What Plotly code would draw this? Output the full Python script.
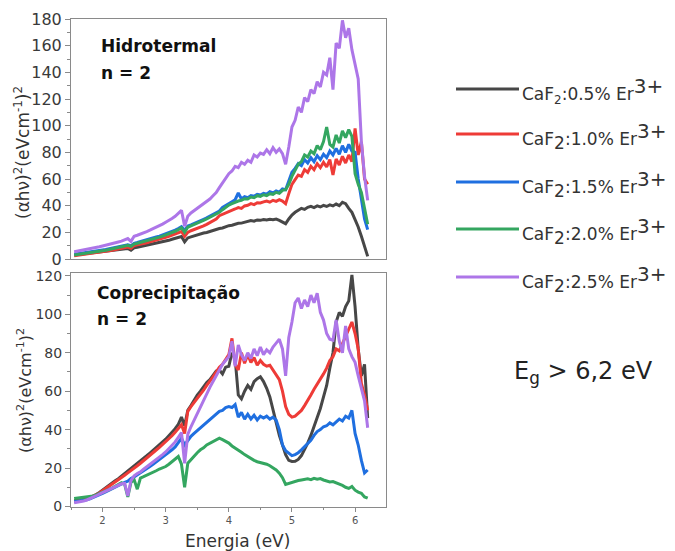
import numpy as np
import plotly.graph_objects as go

W, H = 675, 551

# Photon energy grid (eV)
energy = np.round(np.arange(1.55, 6.2001, 0.05), 2)

labels = ["0.5%", "1.0%", "1.5%", "2.0%", "2.5%"]
colors = ["#474747", "#ee3b37", "#1f6fe0", "#34a660", "#ad76e8"]

# ---------------- Hidrotermal (top) ----------------
hid_05 = [3.0, 3.3, 3.5, 3.8, 4.0, 4.2, 4.6, 4.8, 5.1, 5.4,
          5.6, 6.0, 6.2, 6.6, 6.9, 7.3, 7.6, 7.9, 6.6, 8.4,
          8.8, 9.3, 9.6, 10.2, 10.6, 11.0, 11.6, 12.1, 12.6, 13.2,
          14.0, 14.8, 15.6, 16.6, 16.9, 12.8, 15.8, 16.6, 17.4, 18.0,
          18.6, 19.5, 19.9, 20.8, 21.4, 22.0, 22.9, 23.3, 24.2, 25.0,
          25.3, 26.0, 26.8, 26.9, 27.6, 28.2, 28.8, 28.4, 29.3, 29.0,
          29.6, 29.2, 29.8, 29.5, 29.9, 29.0, 28.0, 26.5, 30.0, 33.0,
          35.0, 36.8, 38.0, 37.2, 38.8, 39.5, 38.6, 39.8, 39.0, 40.2,
          39.4, 40.6, 39.8, 41.2, 40.0, 42.5, 41.5, 38.0, 35.0, 29.5,
          24.0, 17.0, 10.0, 2.0]
hid_10 = [2.5, 2.8, 3.0, 3.4, 3.6, 3.9, 4.3, 4.6, 5.0, 5.4,
          5.8, 6.2, 6.6, 7.0, 7.5, 7.9, 8.4, 8.9, 8.0, 10.0,
          10.6, 11.0, 11.6, 12.1, 12.8, 13.4, 14.0, 14.8, 15.4, 16.2,
          17.0, 17.8, 18.8, 19.8, 20.6, 17.0, 20.0, 21.2, 22.0, 23.0,
          24.0, 24.8, 26.0, 27.2, 28.4, 30.0, 32.5, 33.4, 34.6, 35.5,
          36.2, 37.5, 38.6, 38.0, 39.8, 40.3, 41.5, 40.8, 42.2, 42.0,
          42.8, 43.5, 42.6, 44.0, 43.2, 44.5, 43.5, 41.5, 49.0, 56.0,
          59.5, 63.0, 62.0, 67.0, 65.0, 69.5, 67.0, 71.5, 68.5, 72.5,
          69.0, 74.5, 63.0, 75.0, 70.5, 77.0, 72.0, 78.0, 73.0, 98.0,
          78.0, 88.0, 60.0, 56.0]
hid_15 = [3.5, 3.8, 4.1, 4.4, 4.7, 5.0, 5.4, 5.8, 6.2, 6.7,
          7.1, 7.6, 8.0, 8.5, 9.0, 9.5, 10.0, 10.6, 10.0, 11.8,
          12.4, 13.0, 13.7, 14.3, 15.0, 15.8, 16.5, 17.2, 18.0, 18.8,
          19.6, 20.6, 21.6, 22.8, 24.2, 21.5, 24.8, 25.6, 26.8, 27.6,
          28.6, 29.8, 30.8, 32.0, 33.0, 34.4, 36.0, 38.6, 40.2, 42.0,
          43.0, 44.5, 49.5, 45.0, 46.8, 46.0, 47.5, 47.0, 48.5, 48.0,
          49.2, 48.6, 50.5, 49.5, 51.0, 50.2, 52.5, 52.0, 58.0, 65.0,
          68.0, 71.5, 70.0, 74.5, 72.0, 76.0, 73.0, 77.5, 74.5, 78.5,
          76.0, 81.0, 78.0, 83.0, 78.5, 85.0, 80.0, 86.0, 81.0, 80.0,
          60.0, 45.0, 30.0, 22.0]
hid_20 = [3.0, 3.3, 3.7, 4.0, 4.3, 4.6, 5.0, 5.4, 5.8, 6.2,
          6.6, 7.1, 7.5, 8.0, 8.5, 9.0, 9.5, 10.2, 9.5, 11.2,
          11.8, 12.4, 13.0, 13.6, 14.3, 15.0, 15.7, 16.4, 17.2, 18.0,
          18.8, 19.8, 20.8, 22.0, 23.5, 20.0, 23.8, 24.8, 26.0, 26.8,
          27.8, 29.0, 30.0, 31.2, 32.4, 33.6, 35.0, 37.0, 38.8, 40.5,
          41.5, 42.8, 43.5, 44.0, 45.2, 45.0, 46.5, 46.0, 47.5, 47.0,
          48.2, 47.6, 49.0, 48.5, 50.0, 49.2, 51.5, 52.0, 56.0, 62.0,
          66.0, 71.0, 73.0, 78.0, 76.5, 81.0, 79.0, 85.0, 82.0, 88.0,
          99.0, 86.0, 84.0, 93.0, 87.0, 96.0, 91.0, 97.0, 92.0, 64.0,
          56.0, 50.0, 38.0, 26.0]
hid_25 = [5.5, 5.9, 6.3, 6.8, 7.2, 7.6, 8.1, 8.6, 9.2, 9.8,
          10.3, 10.9, 11.5, 12.1, 12.8, 13.4, 14.2, 15.3, 13.2, 17.0,
          17.8, 18.6, 19.6, 20.6, 21.6, 22.6, 23.8, 25.0, 26.2, 27.6,
          28.8, 30.4, 32.0, 34.2, 36.5, 24.5, 32.0, 34.5, 36.2, 37.6,
          39.5, 41.2, 43.2, 45.0, 47.4, 49.8, 53.5, 57.0, 60.5, 64.0,
          66.0, 69.5, 68.5, 72.5, 71.0, 74.0, 72.5, 78.0, 76.5, 79.5,
          78.5, 82.0, 79.0, 83.5, 80.0, 82.5, 79.0, 71.0, 84.0, 99.0,
          104.0, 114.0, 110.0, 121.0, 118.0, 127.0, 124.0, 133.0, 129.0, 140.0,
          138.0, 151.0, 127.0, 162.0, 158.0, 179.0, 166.0, 173.0, 157.0, 146.0,
          135.0, 88.0, 62.0, 44.0]

# ---------------- Coprecipitação (bottom) ----------------
cop_05 = [3.0, 3.2, 3.4, 3.7, 4.0, 4.6, 5.3, 6.2, 7.3, 8.6,
          9.8, 11.0, 12.2, 13.4, 14.5, 15.8, 17.0, 18.3, 19.5, 21.0,
          22.3, 23.6, 25.0, 26.4, 27.8, 29.2, 30.6, 32.0, 33.6, 35.0,
          36.8, 38.6, 40.5, 42.8, 46.5, 42.0, 50.0, 52.5, 55.5, 58.0,
          60.0, 62.5, 64.5, 66.0, 68.5, 70.5, 71.0, 69.0, 72.5, 73.0,
          80.0, 77.0, 58.0, 56.0, 60.0, 63.0, 61.0, 65.0, 66.5, 67.5,
          65.0, 61.5, 57.0, 50.0, 44.0, 37.0, 32.0, 27.0, 24.0, 23.4,
          23.5, 24.5, 26.5, 29.5, 33.0, 37.0, 41.5, 45.5, 51.0, 57.0,
          63.0, 72.0, 80.0, 96.0, 101.0, 99.0, 104.0, 107.0, 120.5, 104.0,
          82.0, 68.0, 74.0, 46.0]
cop_10 = [2.5, 2.7, 3.0, 3.4, 3.8, 4.5, 5.2, 6.1, 7.0, 8.2,
          9.3, 10.5, 11.6, 12.8, 13.9, 15.0, 16.3, 17.5, 18.6, 19.8,
          21.2, 22.5, 23.8, 25.2, 26.5, 28.0, 29.4, 30.8, 32.2, 33.6,
          35.0, 36.8, 38.6, 40.5, 42.5, 38.0, 49.5, 52.0, 54.0, 56.0,
          58.0, 60.5, 63.0, 65.0, 67.5, 70.0, 72.5, 74.0, 76.5, 79.0,
          87.5, 74.0, 71.0, 80.0, 74.5, 79.0, 75.0, 77.5, 73.5, 76.0,
          74.0, 73.0, 73.5, 71.0, 69.0, 66.0, 60.0, 52.0, 48.0, 46.5,
          47.0, 48.5, 50.0, 52.5, 55.0, 58.0, 61.0, 63.5, 66.0, 69.0,
          72.0, 76.0, 78.0, 82.0, 81.0, 85.0, 89.0, 92.0, 96.0, 90.0,
          82.0, 64.0, 58.0, 50.0]
cop_15 = [2.5, 2.7, 2.9, 3.2, 3.5, 4.0, 4.6, 5.3, 6.0, 6.8,
          7.6, 8.5, 9.4, 10.2, 11.0, 11.8, 12.6, 13.2, 14.6, 15.4,
          16.4, 17.5, 18.6, 19.7, 20.8, 22.0, 23.2, 24.4, 25.6, 26.8,
          28.0, 29.5, 31.0, 33.0, 35.5, 32.0, 34.5, 36.5, 38.0, 39.5,
          41.0, 42.5, 44.0, 45.5, 46.5, 48.0, 49.5, 50.0, 51.5, 52.0,
          51.5, 53.0, 46.5, 49.0, 45.5, 48.0, 45.5, 47.5, 45.0, 47.0,
          46.0, 47.0, 45.5, 46.5, 45.0, 40.0, 32.0, 29.0, 27.5, 26.5,
          27.0, 28.0, 29.5, 31.0, 32.5, 34.5, 37.0, 39.0, 40.0, 41.5,
          42.0, 43.5, 42.5, 44.0, 45.5, 44.5, 47.0, 46.0, 50.0, 38.0,
          32.0, 24.0, 17.5, 19.0]
cop_20 = [4.2, 4.4, 4.5, 4.7, 4.9, 5.2, 5.5, 6.0, 6.6, 7.3,
          8.0, 8.8, 9.6, 10.5, 11.5, 12.4, 11.5, 5.0, 12.5, 14.0,
          9.0, 14.8, 15.5, 16.2, 17.3, 18.0, 18.6, 19.5, 20.2, 20.8,
          22.0, 23.4, 24.5, 26.0, 22.0, 10.0, 22.5, 24.5, 26.5, 28.0,
          29.5, 30.5, 32.0, 33.0, 34.0, 35.0, 35.6, 34.8, 34.0, 33.0,
          31.5, 30.5, 29.5, 28.2, 27.0, 26.0, 24.8, 24.0, 23.3, 23.0,
          22.6, 22.0, 21.2, 20.0, 19.0, 17.3, 15.0, 11.5, 12.0, 12.8,
          13.0, 13.5, 13.8, 14.0, 14.4, 14.0, 14.7, 14.2, 14.5, 13.8,
          13.5, 12.8, 13.0, 12.4, 11.5, 11.0, 10.0, 9.4, 10.4, 8.5,
          7.5, 6.9, 5.0, 4.3]
cop_25 = [2.0, 2.2, 2.5, 2.9, 3.4, 4.0, 4.8, 5.6, 6.4, 7.2,
          8.0, 8.7, 9.4, 10.2, 11.0, 11.8, 12.0, 5.5, 13.5, 16.0,
          17.2, 18.0, 19.4, 20.6, 21.8, 23.0, 24.2, 25.6, 27.0, 28.4,
          30.0, 31.8, 33.6, 36.0, 38.5, 22.5, 37.5, 41.5, 45.0, 48.5,
          52.0, 55.5, 59.0, 62.0, 65.0, 68.0, 71.5, 74.0, 76.0, 78.0,
          86.0, 73.0, 84.0, 79.0, 76.0, 80.0, 77.0, 82.0, 78.5, 83.0,
          79.0, 81.5, 80.0, 83.0, 85.0, 87.0, 82.0, 68.0, 88.0, 96.0,
          106.0, 108.5, 103.0, 107.5, 104.0, 110.0, 106.0, 111.0, 101.0, 97.0,
          90.0, 87.0, 86.5, 97.0, 86.0, 80.0, 94.0, 82.0, 78.0, 75.0,
          68.0, 62.0, 55.0, 41.0]

top_series = [hid_05, hid_10, hid_15, hid_20, hid_25]
bot_series = [cop_05, cop_10, cop_15, cop_20, cop_25]
for s in top_series + bot_series:
    assert len(s) == len(energy), len(s)


def px(x):
    return x / W


def py(y):
    return 1 - y / H


fig = go.Figure()
for vals, c, lab in zip(top_series, colors, labels):
    fig.add_trace(go.Scatter(x=energy, y=vals, mode="lines", xaxis="x2", yaxis="y2",
                             line=dict(color=c, width=3), name=lab, showlegend=False))
for vals, c, lab in zip(bot_series, colors, labels):
    fig.add_trace(go.Scatter(x=energy, y=vals, mode="lines", xaxis="x", yaxis="y",
                             line=dict(color=c, width=3), name=lab, showlegend=False))

FONT = "DejaVu Sans, Arial, sans-serif"
frame = "#8a8a8a"
tickc = "#3a3a3a"
xdom = [px(71), px(386)]


def yax(size):
    return dict(showline=True, mirror=True, linecolor=frame, linewidth=1, ticks="outside",
                ticklen=5, tickcolor=frame, tickfont=dict(family=FONT, size=size, color=tickc),
                showgrid=False, zeroline=False, dtick=20, automargin=False,
                minor=dict(ticks="outside", ticklen=3, dtick=10, tickcolor=frame))


fig.update_layout(
    width=W, height=H, margin=dict(l=0, r=0, t=0, b=0, pad=0), autosize=False,
    paper_bgcolor="white", plot_bgcolor="white", showlegend=False,
    font=dict(family=FONT, color=tickc),
    xaxis=dict(domain=xdom, range=[1.5, 6.49], anchor="y", showline=True, mirror=True,
               linecolor=frame, linewidth=1, ticks="outside", ticklen=4, tickcolor=frame,
               tickvals=[2, 3, 4, 5, 6], tickfont=dict(family=FONT, size=10, color="#555555"),
               minor=dict(ticks="outside", ticklen=2, dtick=0.5, tickcolor=frame),
               showgrid=False, zeroline=False, automargin=False),
    xaxis2=dict(domain=xdom, range=[1.5, 6.49], anchor="y2", matches="x", showline=True,
                mirror=True, linecolor=frame, linewidth=1, showticklabels=False, ticks="",
                showgrid=False, zeroline=False, automargin=False),
    yaxis=dict(domain=[py(506.5), py(273)], range=[0, 121.5], anchor="x", **yax(14)),
    yaxis2=dict(domain=[py(259), py(19)], range=[0, 180], anchor="x2", **yax(16)),
)

ytitle = "(\u03b1h\u03bd)<sup>2</sup>(eVcm<sup>-1</sup>)<sup>2</sup>"
ann = []
for yc, fs, xc in ((153, 17, 22), (391, 16, 24)):
    ann.append(dict(text=ytitle, x=px(xc), y=py(yc), xref="paper", yref="paper",
                    textangle=-90, showarrow=False, xanchor="center", yanchor="middle",
                    font=dict(family=FONT, size=fs, color="#333333")))
ann.append(dict(text="Energia (eV)", x=px(237), y=py(541), xref="paper", yref="paper",
                showarrow=False, xanchor="center", yanchor="middle",
                font=dict(family=FONT, size=17, color="#333333")))
for txt, x0, yc, fs in (("Hidrotermal", 99, 46, 17), ("n = 2", 99, 73, 17),
                        ("Coprecipitação", 95, 293, 17), ("n = 2", 95, 319, 17)):
    ann.append(dict(text="<b>" + txt + "</b>", x=px(x0), y=py(yc), xref="paper", yref="paper",
                    showarrow=False, xanchor="left", yanchor="middle",
                    font=dict(family=FONT, size=fs, color="#111111")))

# Legend (drawn manually)
leg_y = [89, 134, 182, 229, 277]
shapes = []
for i, (lab, c, yy) in enumerate(zip(labels, colors, leg_y)):
    shapes.append(dict(type="line", xref="paper", yref="paper", x0=px(456), x1=px(519),
                       y0=py(yy), y1=py(yy), line=dict(color=c, width=3)))
    sub = "<sub>2</sub>" if i == 0 else "<sub><span style='font-size:17px'>2</span></sub>"
    txt = ("CaF" + sub + ":" + lab + " Er"
           + "<sup><span style='font-size:20px'>3+</span></sup>")
    ann.append(dict(text=txt, x=px(520), y=py(yy + 2), xref="paper", yref="paper",
                    showarrow=False, xanchor="left", yanchor="middle",
                    font=dict(family=FONT, size=17, color="#333333")))

ann.append(dict(text="E<sub>g</sub> > 6,2 eV", x=px(512), y=py(372), xref="paper", yref="paper",
                showarrow=False, xanchor="left", yanchor="middle",
                font=dict(family=FONT, size=24, color="#222222")))

fig.update_layout(annotations=ann, shapes=shapes)
fig.write_html("out.html")
